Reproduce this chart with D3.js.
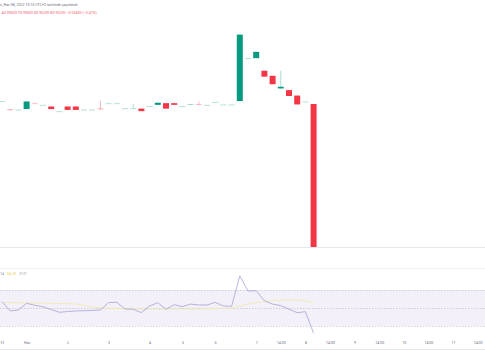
<!DOCTYPE html>
<html>
<head>
<meta charset="utf-8">
<script src="https://cdn.jsdelivr.net/npm/d3@7"></script>
<style>
  html, body { margin: 0; padding: 0; background: #ffffff; }
  svg { display: block; font-family: "Roboto", "Noto Sans", sans-serif; }
</style>
</head>
<body>
<svg id="chart" width="485" height="360"></svg>
<script>
// ---- data ----
const opens  = [0.9967,0.9948,0.9947,0.9948,0.9962,0.9958,0.9954,0.9943,0.9954,0.9954,
                0.9947,0.9947,0.9950,0.9962,0.9962,0.9950,0.9950,0.9949,0.9955,0.9958,
                0.9962,0.9962,0.9955,0.9958,0.9960,0.9958,0.9965,0.9959,0.9959,0.9967,
                1.0069,1.0069,1.0039,1.0027,0.9997,0.9993,0.9980,0.9966,0.9960];
const closes = [0.9967,0.9945,0.9947,0.9966,0.9961,0.9958,0.9948,0.9943,0.9946,0.9946,
                0.9947,0.9947,0.9947,0.9962,0.9962,0.9950,0.9950,0.9943,0.9955,0.9963,
                0.9949,0.9958,0.9955,0.9960,0.9958,0.9958,0.9965,0.9959,0.9959,1.0125,
                1.0069,1.0084,1.0025,1.0007,1.0001,0.9979,0.9959,0.9966,0.9620];
const highs  = [0.9967,0.9948,0.9947,0.9966,0.9963,0.9958,0.9954,0.9943,0.9954,0.9954,
                0.9947,0.9947,0.9968,0.9962,0.9962,0.9950,0.9960,0.9949,0.9955,0.9963,
                0.9962,0.9962,0.9955,0.9960,0.9966,0.9958,0.9965,0.9959,0.9959,1.0125,
                1.0069,1.0084,1.0039,1.0027,1.0039,0.9993,0.9980,0.9966,0.9960];
const lows   = [0.9967,0.9945,0.9947,0.9948,0.9961,0.9958,0.9948,0.9943,0.9946,0.9946,
                0.9947,0.9947,0.9947,0.9962,0.9962,0.9950,0.9950,0.9943,0.9955,0.9958,
                0.9949,0.9958,0.9955,0.9958,0.9958,0.9958,0.9965,0.9959,0.9959,0.9967,
                1.0069,1.0069,1.0025,1.0007,0.9997,0.9979,0.9959,0.9966,0.9620];
const rsiValues = [57.2,46.7,47.8,55.2,53.0,51.4,48.3,45.2,46.1,46.7,
                   47.0,47.2,47.8,56.1,56.3,48.9,48.6,44.8,52.2,55.9,
                   48.6,53.7,51.4,54.4,53.3,53.3,56.3,52.2,51.9,85.6,
                   68.9,69.2,58.1,54.4,52.6,48.6,44.8,45.9,22.0];
const rsiMA = [56.1,56.1,55.9,55.6,55.6,55.3,55.2,55.0,54.8,54.4,
               52.8,51.4,50.6,49.7,49.4,49.4,49.1,48.9,48.9,48.9,
               48.9,48.9,48.9,48.9,48.9,49.1,49.4,49.7,50.0,52.2,
               54.4,56.1,57.2,58.3,58.9,58.9,58.9,57.8,55.9];
const tickIndex  = [0,3,8,13,18,22,26,31,34,37,40,43,46,49,52,55,58];
const tickLabels = ["31","Haz","2","3","4","5","6","7","14:00","8","14:00","9","14:00","10","14:00","11","14:00"];
const rsiLevels = [70, 50, 30];

const headerLine1 = "n, Haz 08, 2022 15:15 UTC+2 tarihinde yayınlandı";
const headerLine2 = "A0.99600 Y0.99600 D0.96200 K0.96200 −0.03400 (−3.41%)";

// ---- scales ----
const svg = d3.select("#chart");
const x = d3.scaleLinear().domain([0, 58]).range([2, 477.6]);
const yP = d3.scaleLinear().domain([0.962, 0.996]).range([247, 104]);
const yR = d3.scaleLinear().domain([30, 70]).range([326, 290]);

const UP = "#089981", DOWN = "#f23645";
const candles = opens.map((o, i) => ({i, o, c: closes[i], h: highs[i], l: lows[i]}));

// pane separators
svg.append("line").attr("x1",0).attr("x2",485).attr("y1",247.5).attr("y2",247.5)
  .attr("stroke","#e6e7ec").attr("stroke-width",1);
svg.append("line").attr("x1",0).attr("x2",485).attr("y1",268.5).attr("y2",268.5)
  .attr("stroke","#f1f1f4").attr("stroke-width",1);
svg.append("line").attr("x1",0).attr("x2",485).attr("y1",349.5).attr("y2",349.5)
  .attr("stroke","#e6e7ec").attr("stroke-width",1);

// header texts
svg.append("text").attr("x",0).attr("y",5.5).attr("font-size",3.6)
  .attr("fill","#6d7080").text(headerLine1);
svg.append("text").attr("x",1.5).attr("y",13.5).attr("font-size",3.6)
  .attr("fill","#f06170").text(headerLine2);

// candles
const cw = 6;
const g = svg.append("g");
g.selectAll("line.wick").data(candles).join("line")
  .attr("class","wick")
  .attr("x1", d => x(d.i)).attr("x2", d => x(d.i))
  .attr("y1", d => yP(d.h)).attr("y2", d => yP(d.l))
  .attr("stroke", d => d.c >= d.o ? UP : DOWN)
  .attr("stroke-opacity", 0.45).attr("stroke-width", 0.8);
g.selectAll("rect.body").data(candles).join("rect")
  .attr("class","body")
  .attr("x", d => x(d.i) - cw/2)
  .attr("width", cw)
  .attr("y", d => Math.min(yP(d.o), yP(d.c)))
  .attr("height", d => Math.max(1, Math.abs(yP(d.o) - yP(d.c))))
  .attr("fill", d => d.c >= d.o ? UP : DOWN)
  .attr("fill-opacity", d => Math.abs(yP(d.o) - yP(d.c)) < 1.5 ? 0.3 : 1);

// RSI band
svg.append("rect").attr("x",0).attr("width",485)
  .attr("y", yR(70)).attr("height", yR(30) - yR(70))
  .attr("fill","#7e57c2").attr("fill-opacity",0.09);
svg.selectAll("line.lvl").data(rsiLevels).join("line")
  .attr("class","lvl")
  .attr("x1",0).attr("x2",485)
  .attr("y1", d => yR(d) + 0.5).attr("y2", d => yR(d) + 0.5)
  .attr("stroke","#9e9eb4").attr("stroke-opacity",0.7)
  .attr("stroke-width",0.6).attr("stroke-dasharray","1.5,1.5");

// RSI MA and RSI lines
const lineMA = d3.line().x((d, i) => x(i)).y(d => yR(d));
svg.append("path").datum(rsiMA).attr("d", lineMA)
  .attr("fill","none").attr("stroke","#f2e9a8").attr("stroke-width",0.8);
svg.append("path").datum(rsiValues).attr("d", lineMA)
  .attr("fill","none").attr("stroke","#a49cd0").attr("stroke-width",0.75);

// RSI label
svg.append("text").attr("x",0).attr("y",274.5).attr("font-size",3.6)
  .attr("fill","#8a8c99").text("14 ");
svg.append("text").attr("x",7).attr("y",274.5).attr("font-size",3.6)
  .attr("fill","#e8cf3c").text("56.20");
svg.append("text").attr("x",19).attr("y",274.5).attr("font-size",3.6)
  .attr("fill","#8a8c99").text("∅ ∅");

// time axis
const axis = d3.axisBottom(x).tickValues(tickIndex)
  .tickFormat((d, i) => tickLabels[i]).tickSize(0).tickPadding(0);
const ax = svg.append("g").attr("transform","translate(0,343)").call(axis);
ax.select(".domain").remove();
ax.selectAll("text").attr("font-size",3.6).attr("fill","#6d7080")
  .attr("font-family","Roboto, sans-serif").attr("dy","0.3em");
</script>
</body>
</html>
